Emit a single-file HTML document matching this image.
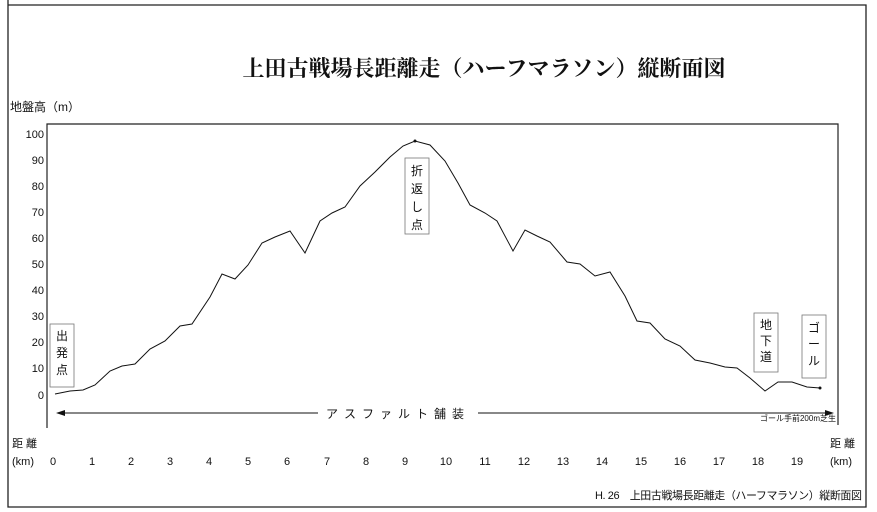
<!DOCTYPE html>
<html><head><meta charset="utf-8"><style>
body{margin:0;background:#fff;}
svg{display:block;font-family:"Liberation Sans","Noto Sans CJK JP",sans-serif;}
</style></head><body>
<svg width="877" height="512" viewBox="0 0 877 512" xmlns="http://www.w3.org/2000/svg">
<rect width="877" height="512" fill="#fff"/>
<polyline points="8,0 8,507 866,507 866,5 8,5" fill="none" stroke="#222" stroke-width="1.3"/>
<text x="484" y="76" font-family="'Liberation Serif','Noto Serif CJK SC',serif" font-size="22" font-weight="bold" text-anchor="middle" fill="#111">上田古戦場長距離走（ハーフマラソン）縦断面図</text>
<text x="10" y="111" font-size="12" fill="#111">地盤高（m）</text>
<polyline points="47,428 47,124 838,124 838,425" fill="none" stroke="#222" stroke-width="1.2"/>
<g font-size="11" fill="#111" text-anchor="end">
<text x="44" y="138">100</text><text x="44" y="164">90</text><text x="44" y="190">80</text>
<text x="44" y="216">70</text><text x="44" y="242">60</text><text x="44" y="268">50</text>
<text x="44" y="294">40</text><text x="44" y="320">30</text><text x="44" y="346">20</text>
<text x="44" y="372">10</text><text x="44" y="399">0</text>
</g>
<polyline fill="none" stroke="#111" stroke-width="1" points="55,394 70,391 83,390 95,385 110,371 122,366 135,364 150,349 165,341 180,326 192,324 210,297 222,274 235,279 248,265 262,243 275,237 290,231 305,253 320,221 332,213 345,207 360,186 375,172 390,157 403,146 415,141 430,145 445,161 458,183 470,205 485,213 497,221 513,251 525,230 537,236 550,242 567,262 580,264 595,276 610,272 625,296 637,321 650,323 665,339 680,346 695,360 710,363 725,367 737,368 750,378 765,391 778,382 792,382 807,387 820,388"/>
<circle cx="415" cy="141" r="1.5" fill="#111"/>
<circle cx="820" cy="388" r="1.5" fill="#111"/>
<g fill="#fff" stroke="#777" stroke-width="0.8">
<rect x="50" y="324" width="24" height="63"/>
<rect x="405" y="158" width="24" height="76"/>
<rect x="754" y="313" width="24" height="59"/>
<rect x="802" y="315" width="24" height="63"/>
</g>
<g font-size="12" fill="#111" text-anchor="middle">
<text x="62" y="340">出</text><text x="62" y="357">発</text><text x="62" y="374">点</text>
<text x="417" y="175">折</text><text x="417" y="193">返</text><text x="417" y="211">し</text><text x="417" y="229">点</text>
<text x="766" y="329">地</text><text x="766" y="345">下</text><text x="766" y="361">道</text>
<text x="814" y="332">ゴ</text><text x="814" y="348">ー</text><text x="814" y="365">ル</text>
</g>
<line x1="62" y1="413" x2="828" y2="413" stroke="#111" stroke-width="1"/>
<polygon points="56,413 65,410 65,416" fill="#111"/>
<polygon points="834,413 825,410 825,416" fill="#111"/>
<rect x="318" y="405" width="160" height="16" fill="#fff"/>
<text x="398" y="418" font-size="12" text-anchor="middle" fill="#111" letter-spacing="6">アスファルト舗装</text>
<text x="836" y="421" font-size="8" text-anchor="end" fill="#111">ゴール手前200m芝生</text>
<g font-size="11" fill="#111">
<text x="12" y="447">距 離</text><text x="12" y="465">(km)</text>
<text x="830" y="447">距 離</text><text x="830" y="465">(km)</text>
</g>
<g font-size="11" fill="#111" text-anchor="middle">
<text x="53" y="465">0</text><text x="92" y="465">1</text><text x="131" y="465">2</text><text x="170" y="465">3</text><text x="209" y="465">4</text><text x="248" y="465">5</text><text x="287" y="465">6</text><text x="327" y="465">7</text><text x="366" y="465">8</text><text x="405" y="465">9</text><text x="446" y="465">10</text><text x="485" y="465">11</text><text x="524" y="465">12</text><text x="563" y="465">13</text><text x="602" y="465">14</text><text x="641" y="465">15</text><text x="680" y="465">16</text><text x="719" y="465">17</text><text x="758" y="465">18</text><text x="797" y="465">19</text>
</g>
<text x="862" y="499" font-size="11" text-anchor="end" fill="#111" textLength="267">H. 26　上田古戦場長距離走（ハーフマラソン）縦断面図</text>
</svg>
</body></html>
